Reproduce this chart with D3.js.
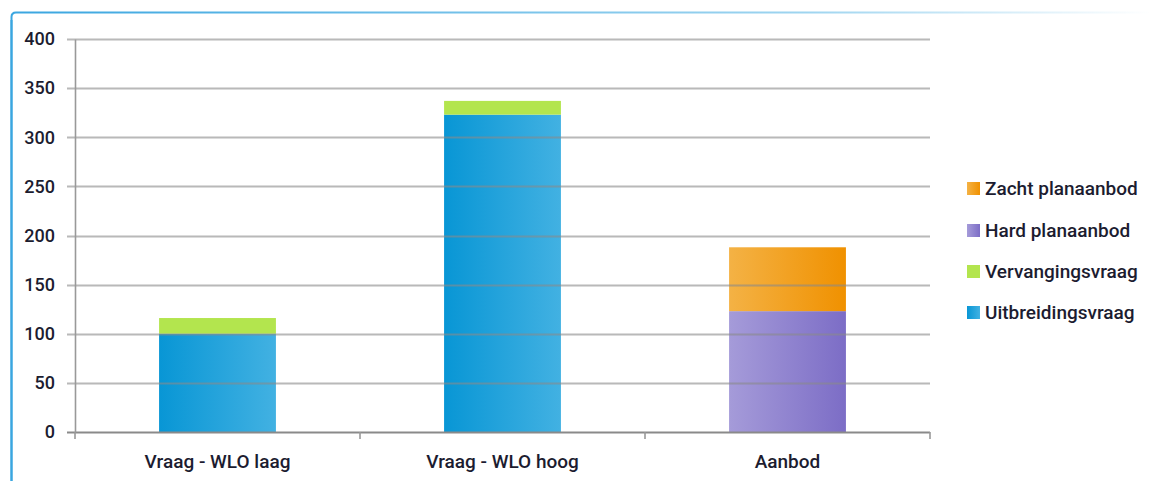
<!DOCTYPE html>
<html><head><meta charset="utf-8">
<script src="https://cdn.jsdelivr.net/npm/d3@7"></script>
<style>
html,body{margin:0;padding:0;background:#fff;}
text{font-family:Roboto,"Liberation Sans",sans-serif;fill:#1c1c30;}
</style></head><body>
<svg id="c" width="1151" height="481"></svg>
<script>
const categories = ["Vraag - WLO laag", "Vraag - WLO hoog", "Aanbod"];
const seriesNames = ["Uitbreidingsvraag", "Vervangingsvraag", "Hard planaanbod", "Zacht planaanbod"];
const uitbreidingsvraag = [100, 323, 0];
const vervangingsvraag = [16, 14, 0];
const hardPlanaanbod = [0, 0, 123];
const zachtPlanaanbod = [0, 0, 65];
const yTicks = [0, 50, 100, 150, 200, 250, 300, 350, 400];

const svg = d3.select("#c");
const defs = svg.append("defs");
function grad(id, c1, c2){
  const g = defs.append("linearGradient").attr("id", id).attr("x1","0%").attr("x2","100%").attr("y1","0%").attr("y2","0%");
  g.append("stop").attr("offset","0%").attr("stop-color", c1);
  g.append("stop").attr("offset","100%").attr("stop-color", c2);
}
grad("gBlue", "#0896d5", "#42b1e2");
grad("gGreen", "#b3e54e", "#b3e54e");
grad("gPurple", "#a59bd9", "#7c6dc6");
grad("gOrange", "#f4b245", "#f09100");
const fills = {"Uitbreidingsvraag":"url(#gBlue)","Vervangingsvraag":"url(#gGreen)","Hard planaanbod":"url(#gPurple)","Zacht planaanbod":"url(#gOrange)"};

// border frame
const bg = defs.append("linearGradient").attr("id","gBorder").attr("x1","0%").attr("x2","100%");
bg.append("stop").attr("offset","0%").attr("stop-color","#3aa6e0");
bg.append("stop").attr("offset","70%").attr("stop-color","#9fd5f0");
bg.append("stop").attr("offset","100%").attr("stop-color","#ffffff");
svg.append("path").attr("d","M11.5,481 L11.5,17 Q11.5,12.5 16,12.5 L1151,12.5").attr("fill","none").attr("stroke","url(#gBorder)").attr("stroke-width",2);
svg.append("path").attr("d","M11.5,481 L11.5,20").attr("fill","none").attr("stroke","#3aa6e0").attr("stroke-width",2);

const x0 = 75, x1 = 930, yTop = 39, yBot = 432;
const x = d3.scaleBand().domain(categories).range([x0, x1]).paddingInner(0.59).paddingOuter(0.295);
const y = d3.scaleLinear().domain([0, 400]).range([yBot, yTop]);

const data = categories.map((c,i)=>({cat:c, "Uitbreidingsvraag":uitbreidingsvraag[i], "Vervangingsvraag":vervangingsvraag[i], "Hard planaanbod":hardPlanaanbod[i], "Zacht planaanbod":zachtPlanaanbod[i]}));
const stack = d3.stack().keys(seriesNames)(data);

// bars
const g = svg.append("g");
stack.forEach(layer=>{
  g.selectAll(null).data(layer.filter(d=>d[1]-d[0]>0)).enter().append("rect")
    .attr("x", d=>x(d.data.cat)).attr("width", x.bandwidth())
    .attr("y", d=>y(d[1])).attr("height", d=>y(d[0])-y(d[1]))
    .attr("fill", fills[layer.key]);
});

// grid (on top, semi-transparent)
const grid = svg.append("g");
grid.selectAll("line").data(yTicks).enter().append("line")
  .attr("x1", 67).attr("x2", x1).attr("y1", d=>Math.round(y(d))+0.5).attr("y2", d=>Math.round(y(d))+0.5)
  .attr("stroke", "#8a8a8a").attr("stroke-width", 1.8).attr("stroke-opacity", d=>d===0?1:0.6);

// y axis
const ya = svg.append("g").attr("transform", `translate(${x0},0)`)
  .call(d3.axisLeft(y).tickValues(yTicks).tickSize(0).tickPadding(20));
ya.select(".domain").attr("stroke","#999").attr("stroke-width",1.6);
ya.selectAll("text").attr("font-size", 18).attr("font-weight",500).style("font-family",'Roboto,sans-serif').attr("fill","#1c1c30");

// x axis
const xa = svg.append("g").attr("transform", `translate(0,${yBot})`)
  .call(d3.axisBottom(x).tickSize(0).tickPadding(23));
xa.select(".domain").remove();
xa.selectAll("text").attr("font-size", 19).attr("font-weight",500).style("font-family",'Roboto,sans-serif').attr("fill","#1c1c30");
const bounds = [x0].concat(categories.map(c=>x(c)+x.bandwidth()+x.step()*x.paddingInner()/2).slice(0,2)).concat([x1]);
svg.append("g").selectAll("line").data(bounds).enter().append("line")
  .attr("x1", d=>d).attr("x2", d=>d).attr("y1", yBot).attr("y2", yBot+7)
  .attr("stroke","#999").attr("stroke-width",1.6);

// legend
const legendItems = ["Zacht planaanbod","Hard planaanbod","Vervangingsvraag","Uitbreidingsvraag"];
const legendY = [188, 230, 271, 312];
const lg = svg.append("g");
legendItems.forEach((k,i)=>{
  lg.append("rect").attr("x",967).attr("y",legendY[i]-6).attr("width",13).attr("height",13).attr("fill",fills[k]);
  lg.append("text").attr("x",985).attr("y",legendY[i]).attr("dy","0.35em").attr("font-size",19).attr("font-weight",500).text(k);
});
</script>
</body></html>
